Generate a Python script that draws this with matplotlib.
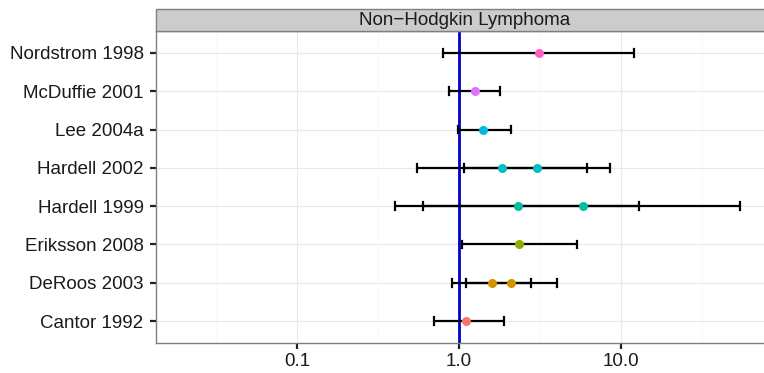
import numpy as np
import matplotlib
matplotlib.use('Agg')
import matplotlib.pyplot as plt
from matplotlib.patches import Rectangle

plt.rcParams['font.family'] = ['Liberation Sans', 'DejaVu Sans']

# исследования снизу вверх
studies = ['Cantor 1992', 'DeRoos 2003', 'Eriksson 2008', 'Hardell 1999',
           'Hardell 2002', 'Lee 2004a', 'McDuffie 2001', 'Nordstrom 1998']

# оценки (одно исследование может иметь несколько)
est_study = ['Cantor 1992', 'DeRoos 2003', 'DeRoos 2003', 'Eriksson 2008',
             'Hardell 1999', 'Hardell 1999', 'Hardell 2002', 'Hardell 2002',
             'Lee 2004a', 'McDuffie 2001', 'Nordstrom 1998']
odds = [1.1, 1.6, 2.1, 2.36, 2.3, 5.8, 1.85, 3.04, 1.4, 1.26, 3.1]
low = [0.7, 0.9, 1.1, 1.04, 0.4, 0.6, 0.55, 1.08, 0.98, 0.87, 0.8]
high = [1.9, 2.8, 4.0, 5.37, 13.0, 54.0, 6.2, 8.52, 2.1, 1.8, 12.0]

study_colors = {'Cantor 1992': '#F8766D', 'DeRoos 2003': '#D39200',
                'Eriksson 2008': '#93AA00', 'Hardell 1999': '#00C19F',
                'Hardell 2002': '#00BFC4', 'Lee 2004a': '#00B9E3',
                'McDuffie 2001': '#DB72FB', 'Nordstrom 1998': '#FF61C3'}

x_ticks = [0.1, 1.0, 10.0]
x_minor = [10 ** -1.5, 10 ** -0.5, 10 ** 0.5, 10 ** 1.5]

W, H = 764, 373
fig = plt.figure(figsize=(W / 100, H / 100), dpi=100)

left, right = 156 / W, 1.0
bottom, top = 1 - 343 / H, 1 - 31 / H
ax = fig.add_axes([left, bottom, right - left, top - bottom])

# масштаб: декада = 162 px, 1.0 на x=459
dec = 162.0
xmin = 10 ** ((156 - 459) / dec)
xmax = 10 ** ((764 - 459) / dec)
ax.set_xscale('log')
ax.set_xlim(xmin, xmax)
ax.set_ylim(0.43, 8.57)

for v in x_minor:
    ax.axvline(v, color='#FAFAFA', lw=0.8, zorder=0)
for v in x_ticks:
    ax.axvline(v, color='#E8E8E8', lw=0.8, zorder=0)
for i in range(len(studies)):
    ax.axhline(i + 1, color='#E8E8E8', lw=0.8, zorder=0)

ax.axvline(1.0, color='#0000CC', lw=2.0, zorder=2)

ypos = [studies.index(s) + 1 for s in est_study]
for y, o, lo, hi, s in zip(ypos, odds, low, high, est_study):
    ax.plot([lo, hi], [y, y], color='black', lw=1.6, zorder=3, solid_capstyle='butt')
    for c in (lo, hi):
        ax.plot([c, c], [y - 0.1, y + 0.1], color='black', lw=1.6, zorder=3)
    ax.plot(o, y, 'o', ms=6.5, color=study_colors[s], mec='none', zorder=4)

ax.set_yticks(range(1, len(studies) + 1))
ax.set_yticklabels(studies, fontsize=13.5, color='#1A1A1A')
ax.set_xticks(x_ticks)
ax.set_xticklabels(['%.1f' % v for v in x_ticks], fontsize=13.5, color='#1A1A1A')
ax.xaxis.set_minor_locator(matplotlib.ticker.NullLocator())
ax.tick_params(axis='both', length=4, width=1.6, color='#222222', pad=3)
ax.tick_params(axis='y', pad=5)

for sp in ['left', 'bottom', 'top']:
    ax.spines[sp].set_color('#7F7F7F')
    ax.spines[sp].set_linewidth(1.0)
ax.spines['right'].set_visible(False)

# полоса фасета
strip_h = (31 - 9.5) / H
fig.patches.append(Rectangle((left, top), right - left + 0.01, strip_h,
                             transform=fig.transFigure, facecolor='#CCCCCC',
                             edgecolor='#7F7F7F', lw=1.0))
fig.text(465 / W, top + strip_h / 2, 'Non\u2212Hodgkin Lymphoma',
         ha='center', va='center', fontsize=13.5, color='#1A1A1A')

fig.savefig('out.png', dpi=100)
